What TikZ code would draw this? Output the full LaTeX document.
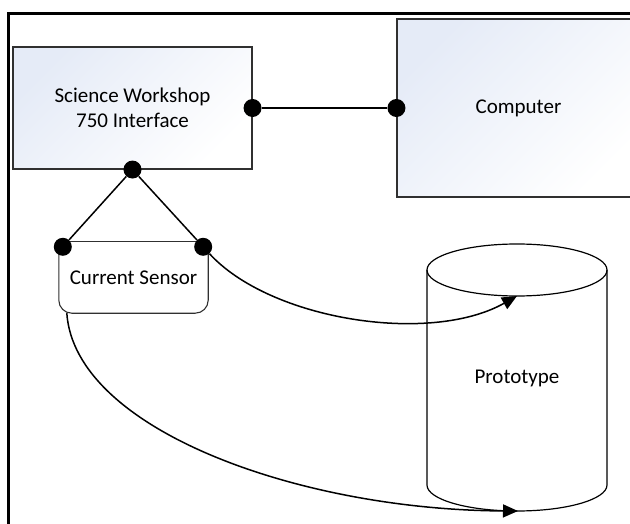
\documentclass[tikz,border=0pt]{standalone}
\usepackage{fontspec}
\setmainfont{Carlito}
\usepackage{tikz}
\usetikzlibrary{
    arrows.meta,
    calc,
    positioning,
}
\definecolor{boxblue}{HTML}{E5EBF7}
\definecolor{edgegray}{HTML}{303030}
\newcommand{\diagfont}{\fontsize{21}{25}\selectfont}
\tikzset{
    labbox/.style={
        draw=edgegray, line width=1.1pt, top color=boxblue, bottom color=white, shading angle=45,
        align=center, inner sep=0pt, font=\diagfont,
    },
    sensorbox/.style={fill=white, inner sep=0pt, font=\diagfont},
    port/.style={circle, fill=black, inner sep=0pt, minimum size=18pt},
    wire/.style={line width=1.5pt},
    link/.style={wire, -{Triangle[length=15pt,width=13pt]}},
    cyl/.style={line width=1.2pt},
}

\begin{document}
\begin{tikzpicture}[x=1pt, y=-1pt]
    \useasboundingbox (0,0) rectangle (630,524);
    \clip (0,0) rectangle (630,524);
    % frame
    \draw[line width=3pt] (8.5,530) -- (8.5,14) -- (640,14);

    \node[labbox, minimum width=239pt, minimum height=122pt] (iface) at (132.5,108) {Science Workshop\\750 Interface};
    \node[labbox, minimum width=243pt, minimum height=178pt] (comp) at (518.5,108) {Computer};
    \node[sensorbox, minimum width=149pt, minimum height=71pt] (sensor) at (133.5,277.5) {Current Sensor};
    \draw[line width=1.1pt, edgegray] (sensor.north west) [rounded corners=13pt] -- (sensor.south west)
        -- (sensor.south east) -- (sensor.north east);
    \draw[line width=1.1pt, edgegray] (sensor.north west) -- (sensor.north east);

    % prototype
    \draw[cyl] (517,270) ellipse [x radius=90, y radius=26];
    \draw[cyl] (427,270) -- (427,485) arc [start angle=180, end angle=0, x radius=90, y radius=26] -- (607,270);
    \node[font=\diagfont] (proto) at (517,378) {Prototype};
    \coordinate (protoTop) at (517,296);
    \coordinate (protoBot) at (518,511);

    \node[port] (ifaceR) at (iface.east) {};
    \node[port] (compL) at (comp.west) {};
    \node[port] (ifaceB) at (iface.south) {};
    \node[port] (sensL) at ([shift={(4,5)}]sensor.north west) {};
    \node[port] (sensR) at ([shift={(-5,5)}]sensor.north east) {};
    \coordinate (sensOut) at ([shift={(8,0)}]sensor.south west);

    \draw[wire] (ifaceR) -- (compL);
    \draw[wire] (ifaceB) -- (sensL);
    \draw[wire] (ifaceB) -- (sensR);
    \draw[link] (sensR) .. controls (270,320) and (430,345) .. (protoTop);
    \draw[link] (sensOut) .. controls (75,430) and (300,510) .. (protoBot);
\end{tikzpicture}
\end{document}
